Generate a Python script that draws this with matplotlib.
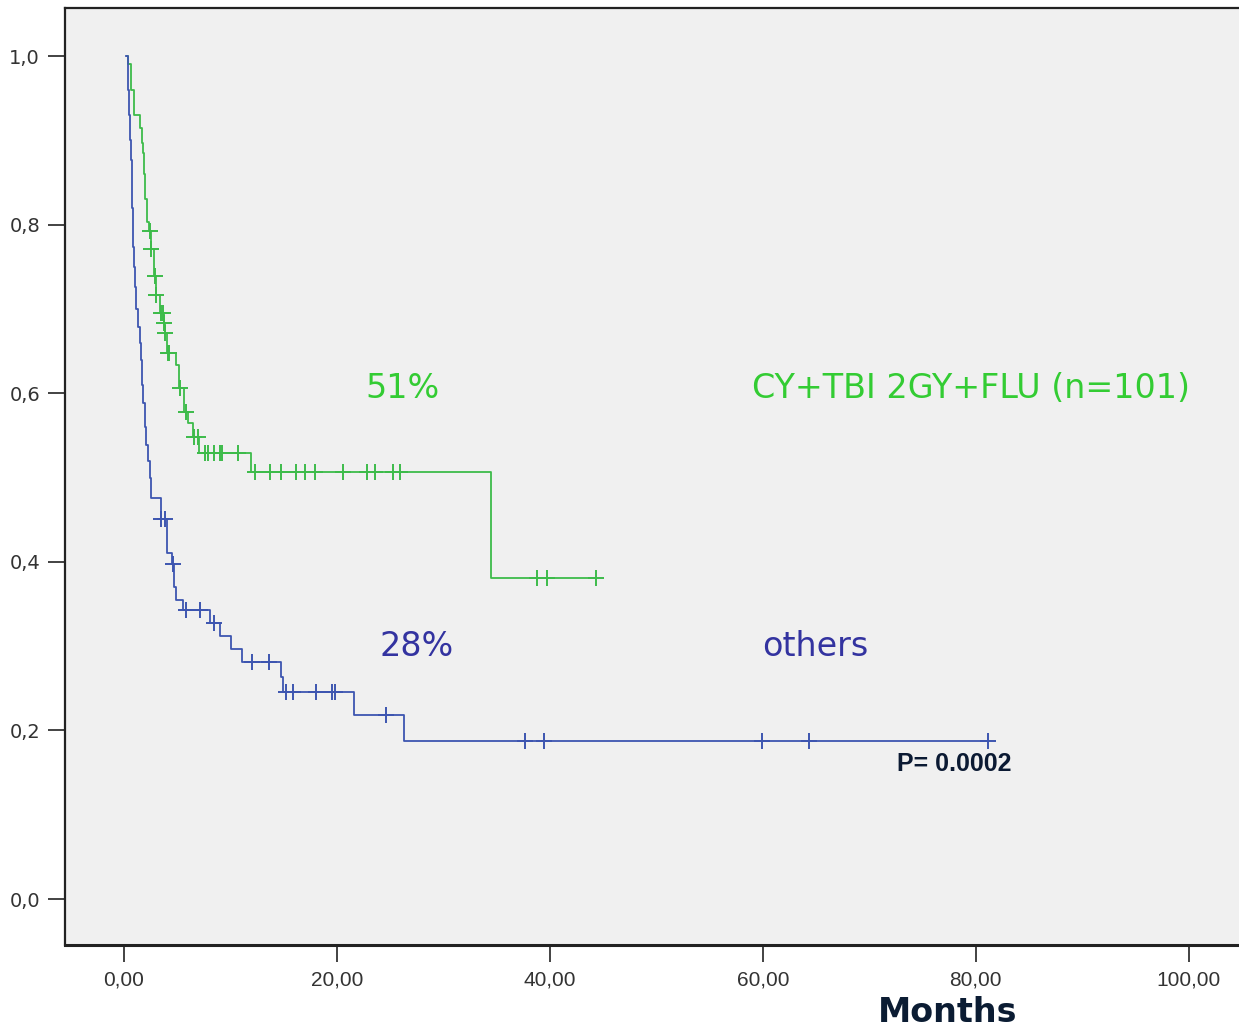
import numpy as np
import matplotlib
matplotlib.use("Agg")
import matplotlib.pyplot as plt

# Kaplan-Meier steps (months, survival)
green_t = [0.3, 0.45, 0.7, 1.0, 1.5, 1.7, 1.85, 1.95, 2.05, 2.2, 2.35, 2.55, 2.85, 3.0,
           3.4, 3.75, 3.85, 4.1, 4.9, 5.15, 5.7, 6.0, 6.5, 7.1, 12.0, 34.5, 44.3]
green_s = [1.0, 0.99, 0.96, 0.93, 0.915, 0.897, 0.885, 0.86, 0.83, 0.803, 0.793, 0.771,
           0.739, 0.716, 0.695, 0.683, 0.671, 0.648, 0.633, 0.606, 0.578, 0.565, 0.548,
           0.529, 0.507, 0.381, 0.381]
green_cens_t = [2.44, 2.6, 2.9, 3.07, 3.48, 3.7, 3.78, 3.9, 4.15, 4.3, 5.26, 5.85, 6.65,
                6.96, 7.6, 7.9, 8.5, 9.0, 9.2, 10.7, 12.3, 13.7, 14.8, 16.2, 17.0, 18.0,
                20.6, 22.8, 23.6, 25.3, 25.9, 38.8, 39.7, 44.3]
green_cens_s = [0.793, 0.771, 0.739, 0.716, 0.695, 0.695, 0.683, 0.671, 0.648, 0.648,
                0.606, 0.578, 0.548, 0.548, 0.529, 0.529, 0.529, 0.529, 0.529, 0.529,
                0.507, 0.507, 0.507, 0.507, 0.507, 0.507, 0.507, 0.507, 0.507, 0.507,
                0.507, 0.381, 0.381, 0.381]

blue_t = [0.25, 0.4, 0.5, 0.6, 0.7, 0.78, 0.85, 0.95, 1.03, 1.2, 1.34, 1.5, 1.66, 1.75,
          1.81, 2.0, 2.13, 2.3, 2.44, 2.6, 3.5, 4.07, 4.5, 4.7, 4.88, 5.57, 8.14, 9.08,
          10.1, 11.14, 14.8, 15.0, 21.6, 26.3, 81.1]
blue_s = [1.0, 0.96, 0.93, 0.90, 0.877, 0.82, 0.773, 0.75, 0.726, 0.70, 0.678, 0.66,
          0.639, 0.61, 0.588, 0.56, 0.539, 0.52, 0.50, 0.476, 0.451, 0.41, 0.397, 0.37,
          0.355, 0.343, 0.328, 0.312, 0.297, 0.281, 0.263, 0.246, 0.218, 0.187, 0.187]
blue_cens_t = [3.54, 3.85, 4.63, 5.82, 7.14, 8.48, 12.08, 13.65, 15.27, 15.9, 18.1, 19.6,
               19.8, 24.6, 37.7, 39.5, 59.9, 64.3, 81.1]
blue_cens_s = [0.451, 0.451, 0.397, 0.343, 0.343, 0.328, 0.281, 0.281, 0.246, 0.246,
               0.246, 0.246, 0.246, 0.218, 0.187, 0.187, 0.187, 0.187, 0.187]

x_ticks = [0, 20, 40, 60, 80, 100]
x_labels = ["0,00", "20,00", "40,00", "60,00", "80,00", "100,00"]
y_ticks = [0.0, 0.2, 0.4, 0.6, 0.8, 1.0]
y_labels = ["0,0", "0,2", "0,4", "0,6", "0,8", "1,0"]

GREEN = "#3dbb4a"
BLUE = "#3d55b0"

fig = plt.figure(figsize=(12.39, 10.28), dpi=100)
ax = fig.add_axes([0.0525, 0.0807, 0.9475, 0.9115])
ax.set_facecolor("#f0f0f0")

ax.step(green_t, green_s, where="post", color=GREEN, lw=1.3)
ax.plot(green_cens_t, green_cens_s, ls="none", marker="+", ms=11, mew=1.4, color=GREEN)
ax.step(blue_t, blue_s, where="post", color=BLUE, lw=1.3)
ax.plot(blue_cens_t, blue_cens_s, ls="none", marker="+", ms=11, mew=1.4, color=BLUE)

ax.set_xlim(-5.5, 104.7)
ax.set_ylim(-0.0546, 1.057)
ax.set_xticks(x_ticks)
ax.set_xticklabels(x_labels, fontsize=15, family="Liberation Sans", color="#333333")
ax.set_yticks(y_ticks)
ax.set_yticklabels(y_labels, fontsize=14, family="DejaVu Sans", color="#333333")
ax.tick_params(axis="both", length=12, width=1.2, color="#222222", pad=6)

for side in ["left", "bottom", "top"]:
    ax.spines[side].set_linewidth(1.6)
    ax.spines[side].set_color("#222222")
ax.spines["bottom"].set_linewidth(2.2)
ax.spines["right"].set_visible(False)

# annotations
ax.text(26.2, 0.606, "51%", color="#33cc33", fontsize=24, ha="center", va="center")
ax.text(79.5, 0.606, "CY+TBI 2GY+FLU (n=101)", color="#33cc33", fontsize=24,
        ha="center", va="center")
ax.text(27.5, 0.299, "28%", color="#3333a0", fontsize=24, ha="center", va="center")
ax.text(64.9, 0.299, "others", color="#3333a0", fontsize=24, ha="center", va="center")
ax.text(78.0, 0.160, "P= 0.0002", color="#0b1a33", fontsize=18, fontweight="bold",
        family="Liberation Sans", ha="center", va="center")

fig.text(0.765, 0.031, "Months", color="#0b1c33", fontsize=24, fontweight="bold",
         ha="center", va="top")

fig.savefig("out.png", dpi=100)
